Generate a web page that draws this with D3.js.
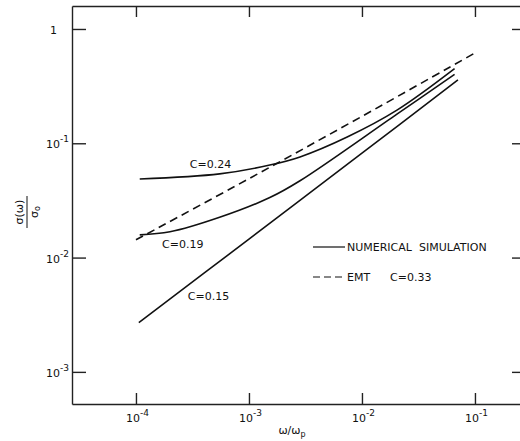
<!DOCTYPE html>
<html>
<head>
<meta charset="utf-8">
<script src="https://cdn.jsdelivr.net/npm/d3@7"></script>
<style>
  body { margin: 0; background: #fff; }
  svg { display: block; font-family: "DejaVu Sans", sans-serif; }
  .axis path, .axis line { stroke: #222; stroke-width: 1.4; }
  .curve { fill: none; stroke: #111; stroke-width: 1.6; }
  .lbl { font-size: 11px; fill: #111; }
</style>
</head>
<body>
<svg id="chart" width="520" height="441"></svg>
<script>
// tick values and labels
const xTickVals = [1e-4, 1e-3, 1e-2, 1e-1];
const xTickExp  = ["-4", "-3", "-2", "-1"];
const yTickVals = [1, 1e-1, 1e-2, 1e-3];
const yTickExp  = ["", "-1", "-2", "-3"];

// numerical simulation curves (omega/omega_p, sigma/sigma_0)
const omegaC24 = [1.08e-4, 5.5e-4, 1.53e-3, 2.83e-3, 7.4e-3, 2.04e-2, 6.6e-2];
const sigmaC24 = [0.0487, 0.054, 0.0645, 0.076, 0.1135, 0.195, 0.45];

const omegaC19 = [1.08e-4, 2.0e-4, 5.5e-4, 1.53e-3, 2.83e-3, 2.04e-2, 6.6e-2];
const sigmaC19 = [0.0158, 0.0168, 0.0225, 0.0335, 0.047, 0.18, 0.40];

const omegaC15 = [1.06e-4, 1e-3, 1e-2, 7.07e-2];
const sigmaC15 = [0.0027, 0.0145, 0.082, 0.358];

// effective medium theory, C = 0.33
const omegaEMT = [1e-4, 1e-3, 1e-2, 1e-1];
const sigmaEMT = [0.0143, 0.049, 0.172, 0.617];

const curveLabels = ["C=0.24", "C=0.19", "C=0.15"];

const svg = d3.select("#chart");
const margin = {left: 72, top: 6};
const width = 452, height = 398;

// log scales, roughly 113 px per decade
const x = d3.scaleLog()
    .domain([Math.pow(10, -4.566), Math.pow(10, -0.566)])
    .range([margin.left, margin.left + width]);
const y = d3.scaleLog()
    .domain([Math.pow(10, -3.281), Math.pow(10, 0.201)])
    .range([margin.top + height, margin.top]);

// axes, ticks pointing inward
svg.append("g").attr("class", "axis")
    .attr("transform", "translate(0," + (margin.top + height) + ")")
    .call(d3.axisBottom(x).tickValues(xTickVals).tickSizeInner(-11).tickSizeOuter(0).tickFormat(""));
svg.append("g").attr("class", "axis")
    .attr("transform", "translate(0," + margin.top + ")")
    .call(d3.axisTop(x).tickValues(xTickVals).tickSizeInner(-11).tickSizeOuter(0).tickFormat(""));
svg.append("g").attr("class", "axis")
    .attr("transform", "translate(" + margin.left + ",0)")
    .call(d3.axisLeft(y).tickValues(yTickVals).tickSizeInner(-14).tickSizeOuter(0).tickFormat(""));
svg.append("g").attr("class", "axis")
    .attr("transform", "translate(" + (margin.left + width) + ",0)")
    .call(d3.axisRight(y).tickValues(yTickVals).tickSizeInner(-12).tickSizeOuter(0).tickFormat(""));

// tick labels with superscripts
xTickVals.forEach(function(v, i) {
    const t = svg.append("text").attr("class", "lbl")
        .attr("x", x(v) - 10).attr("y", margin.top + height + 18);
    t.append("tspan").text("10");
    t.append("tspan").attr("dy", -6).style("font-size", "9px").text(xTickExp[i]);
});
yTickVals.forEach(function(v, i) {
    const t = svg.append("text").attr("class", "lbl")
        .attr("y", y(v) + 5);
    if (yTickExp[i] === "") {
        t.attr("x", 50).text("1");
    } else {
        t.attr("x", 46);
        t.append("tspan").text("10");
        t.append("tspan").attr("dy", -6).style("font-size", "9px").text(yTickExp[i]);
    }
});

// curves
const line = d3.line()
    .x(function(d) { return x(d[0]); })
    .y(function(d) { return y(d[1]); })
    .curve(d3.curveCatmullRom.alpha(0.5));

const sims = [
    d3.zip(omegaC24, sigmaC24),
    d3.zip(omegaC19, sigmaC19),
    d3.zip(omegaC15, sigmaC15)
];
svg.selectAll("path.sim").data(sims).enter()
    .append("path").attr("class", "curve sim")
    .attr("d", line);

svg.append("path").attr("class", "curve")
    .attr("d", line(d3.zip(omegaEMT, sigmaEMT)))
    .attr("stroke-dasharray", "8,5");

// curve labels (placed in data coordinates)
const labelAt = [[3.0e-4, 0.0608], [1.7e-4, 0.0121], [2.88e-4, 0.00426]];
curveLabels.forEach(function(s, i) {
    svg.append("text").attr("class", "lbl")
        .attr("x", x(labelAt[i][0])).attr("y", y(labelAt[i][1]))
        .text(s);
});

// legend
svg.append("line").attr("x1", 313).attr("x2", 345).attr("y1", 247).attr("y2", 247)
    .attr("stroke", "#111").attr("stroke-width", 1.2);
svg.append("text").attr("class", "lbl").attr("x", 347).attr("y", 251)
    .attr("xml:space", "preserve").text("NUMERICAL  SIMULATION");
svg.append("line").attr("x1", 313).attr("x2", 345).attr("y1", 277).attr("y2", 277)
    .attr("stroke", "#111").attr("stroke-width", 1.2).attr("stroke-dasharray", "7,4");
svg.append("text").attr("class", "lbl").attr("x", 347).attr("y", 281).text("EMT");
svg.append("text").attr("class", "lbl").attr("x", 390).attr("y", 281).text("C=0.33");

// x axis title
const xt = svg.append("text").attr("class", "lbl")
    .attr("x", 292).attr("y", 434).attr("text-anchor", "middle");
xt.append("tspan").text("ω/ω");
xt.append("tspan").attr("dy", 3).style("font-size", "8px").text("p");

// y axis title: sigma(omega) over sigma_0, rotated
const yt = svg.append("g").attr("transform", "translate(27,212) rotate(-90)");
yt.append("text").attr("class", "lbl").attr("text-anchor", "middle")
    .attr("y", -4).text("σ(ω)");
yt.append("line").attr("x1", -16).attr("x2", 16).attr("y1", 0).attr("y2", 0)
    .attr("stroke", "#111").attr("stroke-width", 1);
const den = yt.append("text").attr("class", "lbl").attr("text-anchor", "middle").attr("y", 11);
den.append("tspan").text("σ");
den.append("tspan").attr("dy", 2).style("font-size", "8px").text("o");
</script>
</body>
</html>
